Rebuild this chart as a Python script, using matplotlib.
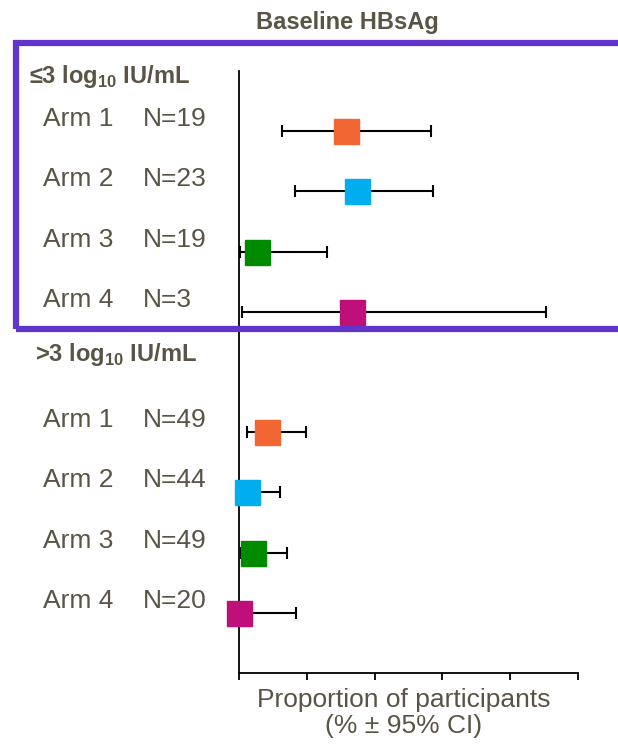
import matplotlib
matplotlib.use("Agg")
import matplotlib.pyplot as plt
from matplotlib.patches import Rectangle

plt.rcParams['font.family'] = ['Liberation Sans', 'DejaVu Sans']
plt.rcParams['mathtext.fontset'] = 'custom'
plt.rcParams['mathtext.bf'] = 'Liberation Sans:bold'
plt.rcParams['mathtext.rm'] = 'Liberation Sans'

# data: proportion (%) with 95% CI
arms = ["Arm 1", "Arm 2", "Arm 3", "Arm 4"]
colors = ["#F26633", "#00AEEF", "#008A00", "#BE1078"]

low_n = [19, 23, 19, 3]
low_est = [31.6, 34.8, 5.3, 33.3]
low_lo = [12.6, 16.4, 0.1, 0.8]
low_hi = [56.6, 57.3, 26.0, 90.6]

high_n = [49, 44, 49, 20]
high_est = [8.2, 2.3, 4.1, 0.0]
high_lo = [2.3, 0.1, 0.5, 0.0]
high_hi = [19.6, 12.0, 14.0, 16.8]

xticks = [0, 20, 40, 60, 80, 100]

txt_col = "#595445"

fig = plt.figure(figsize=(6.18, 7.44), dpi=100)
ax = fig.add_axes([239.3/618, 1-673/744, (577.7-239.3)/618, (673-71)/744])

low_y = [1, 2, 3, 4]
high_y = [6, 7, 8, 9]

for ys, est, lo, hi in [(low_y, low_est, low_lo, low_hi),
                        (high_y, high_est, high_lo, high_hi)]:
    for y, e, l, h, c in zip(ys, est, lo, hi, colors):
        ax.errorbar(e, y, xerr=[[e-l], [h-e]], fmt='none', ecolor='black',
                    elinewidth=1.5, capsize=4.3, capthick=1.5, zorder=2)
        ax.plot(e, y, marker='s', markersize=18, color=c, mec=c, zorder=3,
                clip_on=False)

ax.set_xlim(0, 100)
ax.set_ylim(10, 0)
ax.set_xticks(xticks)
ax.set_xticklabels([])
ax.set_yticks([])
ax.tick_params(axis='x', length=5, width=1.3, color='black')
for s in ['top', 'right']:
    ax.spines[s].set_visible(False)
for s in ['left', 'bottom']:
    ax.spines[s].set_linewidth(1.3)
    ax.spines[s].set_color('black')

# row labels
yt = ax.get_yaxis_transform()
for ys, ns, off in [(low_y, low_n, 0.2), (high_y, high_n, 0.2)]:
    for y, arm, n in zip(ys, arms, ns):
        ax.text(-0.475, y - off, arm, transform=yt,
                ha='center', va='center', fontsize=19, color=txt_col)
        ax.text(-0.286, y - off, "N=%d" % n, transform=yt,
                ha='left', va='center', fontsize=19, color=txt_col)

fig.text(29/618, 1-77/744, r"≤3 log$_{\mathbf{10}}$ IU/mL", fontsize=17,
         fontweight='bold', color=txt_col, ha='left', va='center')
fig.text(35/618, 1-355/744, r">3 log$_{\mathbf{10}}$ IU/mL", fontsize=17,
         fontweight='bold', color=txt_col, ha='left', va='center')

fig.text(347.5/618, 1-23/744, "Baseline HBsAg", fontsize=17,
         fontweight='bold', color=txt_col, ha='center', va='center')

fig.text(404/618, 1-713/744, "Proportion of participants\n(% ± 95% CI)",
         fontsize=19, color=txt_col, ha='center', va='center', linespacing=1.15)

# purple box around the first group
box = Rectangle((15.5/618, 1-329/744), 640/618, (329-43.5)/744,
                transform=fig.transFigure, fill=False, edgecolor="#6035CC",
                linewidth=4.5, clip_on=False, zorder=5)
fig.patches.append(box)

fig.savefig("out.png", dpi=100)
